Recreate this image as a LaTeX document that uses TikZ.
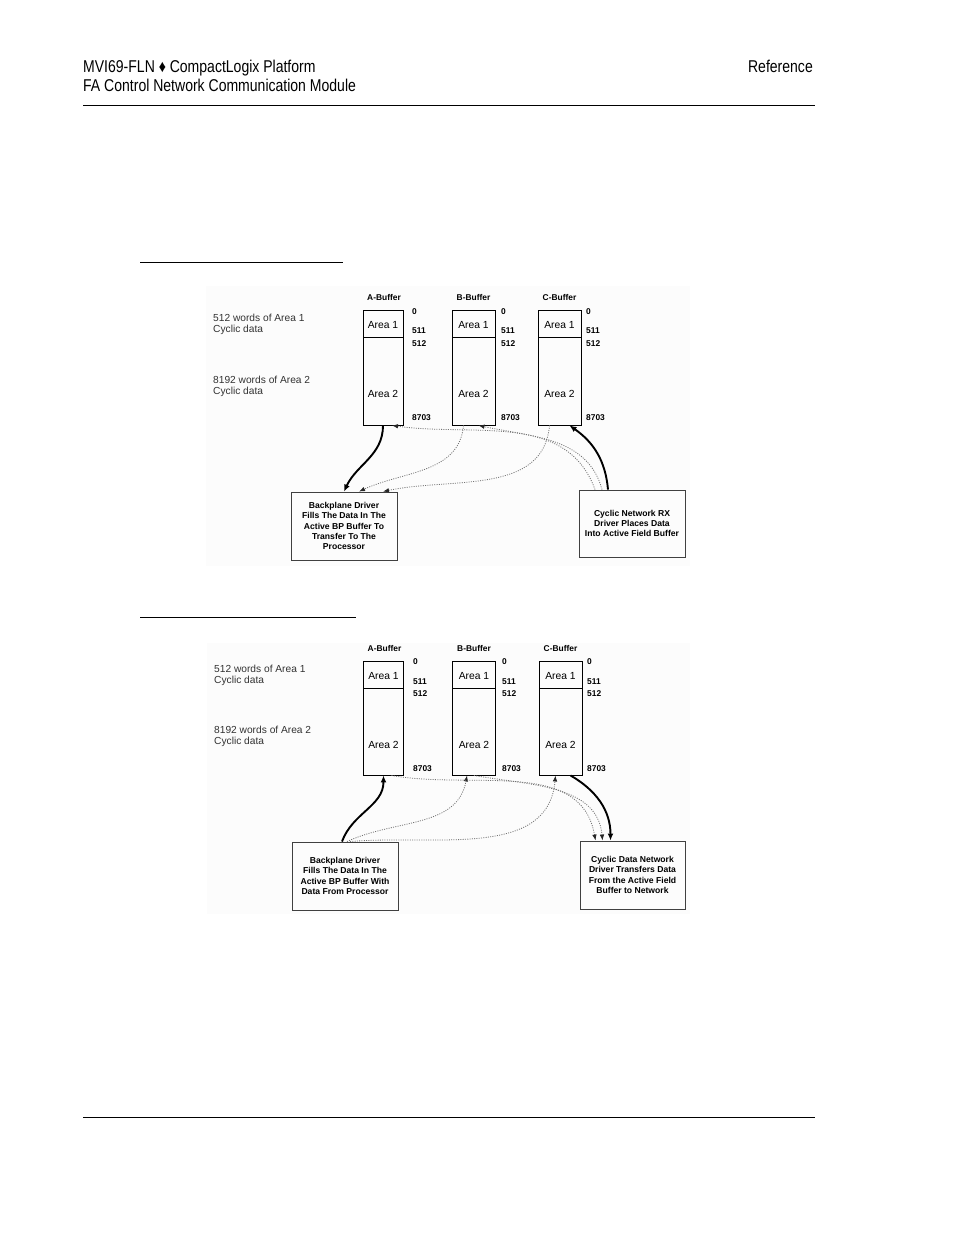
\documentclass[tikz,border=0pt]{standalone}
\usepackage{fontspec}
\setmainfont{Liberation Sans}
\newfontfamily\headfont[FakeStretch=0.82]{Liberation Sans}
\usepackage{tikz}
\usetikzlibrary{arrows.meta}
\usetikzlibrary{calc}
\tikzset{%
    area/.style={
        draw, line width=0.9pt, inner sep=0pt, minimum width=43pt,
        text height=11pt, font=\fontsize{10.3}{12}\selectfont
    },
    areatext/.style={inner sep=0pt, font=\fontsize{10.3}{12}\selectfont},
    bufname/.style={inner sep=0pt, font=\bfseries\fontsize{8.4}{10}\selectfont},
    addr/.style={anchor=west, inner sep=0pt, font=\bfseries\fontsize{8.4}{10}\selectfont},
    words/.style={anchor=west, inner sep=0pt, text=black!80, font=\fontsize{10.2}{12}\selectfont},
    driver/.style={
        draw=black!75, line width=0.9pt, minimum width=106pt, minimum height=68pt,
        inner sep=1pt, align=center, font=\bfseries\fontsize{8.6}{10.2}\selectfont
    },
    head/.style={inner sep=0pt, font=\headfont\fontsize{17.1}{20}\selectfont}
}
\tikzset{busy/.style={line width=1.9pt, -{Latex[length=7pt,width=6pt]}}}
\tikzset{idle/.style={draw=black!55, line width=0.8pt, dash pattern=on 1pt off 1.3pt,
    -{Latex[length=6pt,width=4.5pt,color=black!85]}}}

\begin{document}
\begin{tikzpicture}[x=1pt,y=1pt]
    \useasboundingbox (0,0) rectangle (954,-1235);

    % page header and footer
    \node[head, anchor=base west] (doc) at (83,-72) {MVI69-FLN ♦ CompactLogix Platform};
    \node[head, anchor=base west] (mod) at (83,-91) {FA Control Network Communication Module};
    \node[head, anchor=base east] (part) at (813,-72) {Reference};
    \draw[line width=1pt] (83,-105) -- (815,-105);
    \draw[line width=1pt] (83,-1117) -- (815,-1117);

    \draw[line width=1pt] (140,-262) -- (343,-262);
    \draw[line width=1pt] (140,-617) -- (356,-617);

    \fill[black!1] (206,-286) rectangle (690,-566);
    \fill[black!1] (207,-643) rectangle (690,-914);

    % ---------- receive side ----------
    \node[words] (rxw1) at (213,-318) {512 words of Area 1};
    \node[words] (rxc1) at (213,-330) {Cyclic data};
    \node[words] (rxw2) at (213,-380) {8192 words of Area 2};
    \node[words] (rxc2) at (213,-392) {Cyclic data};

    \node[bufname] (rxAn) at (384,-297) {A-Buffer};		\node[bufname] (rxBn) at (473.5,-297) {B-Buffer};		\node[bufname] (rxCn) at (559.5,-297) {C-Buffer};
    \node[area, minimum width=40pt, minimum height=27pt] (rxA1) at (383,-323.5) {Area 1};
    \node[area, minimum height=27pt] (rxB1) at (473.5,-323.5) {Area 1};
    \node[area, minimum height=27pt] (rxC1) at (559.5,-323.5) {Area 1};
    \node[area, minimum width=40pt, minimum height=88pt] (rxA2) at (383,-381) {};
    \node[area, minimum height=88pt] (rxB2) at (473.5,-381) {};
    \node[area, minimum height=88pt] (rxC2) at (559.5,-381) {};
    \node[areatext] (rxA2t) at (383,-394) {Area 2};	\node[areatext] (rxB2t) at (473.5,-394) {Area 2};	\node[areatext] (rxC2t) at (559.5,-394) {Area 2};

    \node[addr] (rxA0) at (412,-312) {0};			\node[addr] (rxB0) at (501,-312) {0};			\node[addr] (rxC0) at (586,-312) {0};
    \node[addr] (rxA511) at (412,-331) {511};		\node[addr] (rxB511) at (501,-331) {511};		\node[addr] (rxC511) at (586,-331) {511};
    \node[addr] (rxA512) at (412,-344) {512};		\node[addr] (rxB512) at (501,-344) {512};		\node[addr] (rxC512) at (586,-344) {512};
    \node[addr] (rxA8703) at (412,-418) {8703};	\node[addr] (rxB8703) at (501,-418) {8703};	\node[addr] (rxC8703) at (586,-418) {8703};

    \node[driver] (bp1) at (344,-526) {Backplane Driver\\Fills The Data In The\\Active BP Buffer To\\Transfer To The\\Processor};
    \node[driver, minimum height=67pt] (cy1) at (632,-523.5) {Cyclic Network RX\\Driver Places Data\\Into Active Field Buffer};

    \draw[busy] (rxA2.south) to[out=-90,in=65] (bp1.north);
    \draw[idle] ([xshift=-10pt]rxB2.south) to[out=-95,in=25] ([xshift=15pt]bp1.north);
    \draw[idle] ([xshift=-10pt]rxC2.south) to[out=-95,in=12] ([xshift=39pt]bp1.north);
    \draw[busy] ([xshift=-24pt]cy1.north) to[out=95,in=-35] ([xshift=10pt]rxC2.south);
    \draw[idle] ([xshift=-30pt]cy1.north) to[out=105,in=-12] ([xshift=5pt]rxB2.south);
    \draw[idle] ([xshift=-37pt]cy1.north) to[out=110,in=-8] ([xshift=9pt]rxA2.south);

    % ---------- transmit side ----------
    \node[words] (txw1) at (214,-669) {512 words of Area 1};
    \node[words] (txc1) at (214,-681) {Cyclic data};
    \node[words] (txw2) at (214,-730) {8192 words of Area 2};
    \node[words] (txc2) at (214,-742) {Cyclic data};

    \node[bufname] (txAn) at (384.5,-648) {A-Buffer};		\node[bufname] (txBn) at (474,-648) {B-Buffer};		\node[bufname] (txCn) at (560.5,-648) {C-Buffer};
    \node[area, minimum width=40pt, minimum height=27pt] (txA1) at (383.5,-674.5) {Area 1};
    \node[area, minimum height=27pt] (txB1) at (474,-674.5) {Area 1};
    \node[area, minimum height=27pt] (txC1) at (560.5,-674.5) {Area 1};
    \node[area, minimum width=40pt, minimum height=87pt] (txA2) at (383.5,-731.5) {};
    \node[area, minimum height=87pt] (txB2) at (474,-731.5) {};
    \node[area, minimum height=87pt] (txC2) at (560.5,-731.5) {};
    \node[areatext] (txA2t) at (383.5,-745) {Area 2};	\node[areatext] (txB2t) at (474,-745) {Area 2};	\node[areatext] (txC2t) at (560.5,-745) {Area 2};

    \node[addr] (txA0) at (413,-662) {0};			\node[addr] (txB0) at (502,-662) {0};			\node[addr] (txC0) at (587,-662) {0};
    \node[addr] (txA511) at (413,-682) {511};		\node[addr] (txB511) at (502,-682) {511};		\node[addr] (txC511) at (587,-682) {511};
    \node[addr] (txA512) at (413,-694) {512};		\node[addr] (txB512) at (502,-694) {512};		\node[addr] (txC512) at (587,-694) {512};
    \node[addr] (txA8703) at (413,-769) {8703};	\node[addr] (txB8703) at (502,-769) {8703};	\node[addr] (txC8703) at (587,-769) {8703};

    \node[driver] (bp2) at (345,-876) {Backplane Driver\\Fills The Data In The\\Active BP Buffer With\\Data From Processor};
    \node[driver, minimum width=105pt] (cy2) at (632.5,-875) {Cyclic Data Network\\Driver Transfers Data\\From the Active Field\\Buffer to Network};

    \draw[busy] ([xshift=-3pt]bp2.north) to[out=70,in=-90] (txA2.south);
    \draw[idle] ([xshift=2pt]bp2.north) to[out=25,in=-100] ([xshift=-7pt]txB2.south);
    \draw[idle] ([xshift=5pt]bp2.north) to[out=5,in=-95] ([xshift=-5pt]txC2.south);
    \draw[idle] ([xshift=8pt]txA2.south) to[out=-10,in=100] ([xshift=-37pt]cy2.north);
    \draw[idle] (txB2.south) to[out=-10,in=95] ([xshift=-30pt]cy2.north);
    \draw[busy] ([xshift=10pt]txC2.south) to[out=-30,in=90] ([xshift=-22pt]cy2.north);
\end{tikzpicture}
\end{document}
